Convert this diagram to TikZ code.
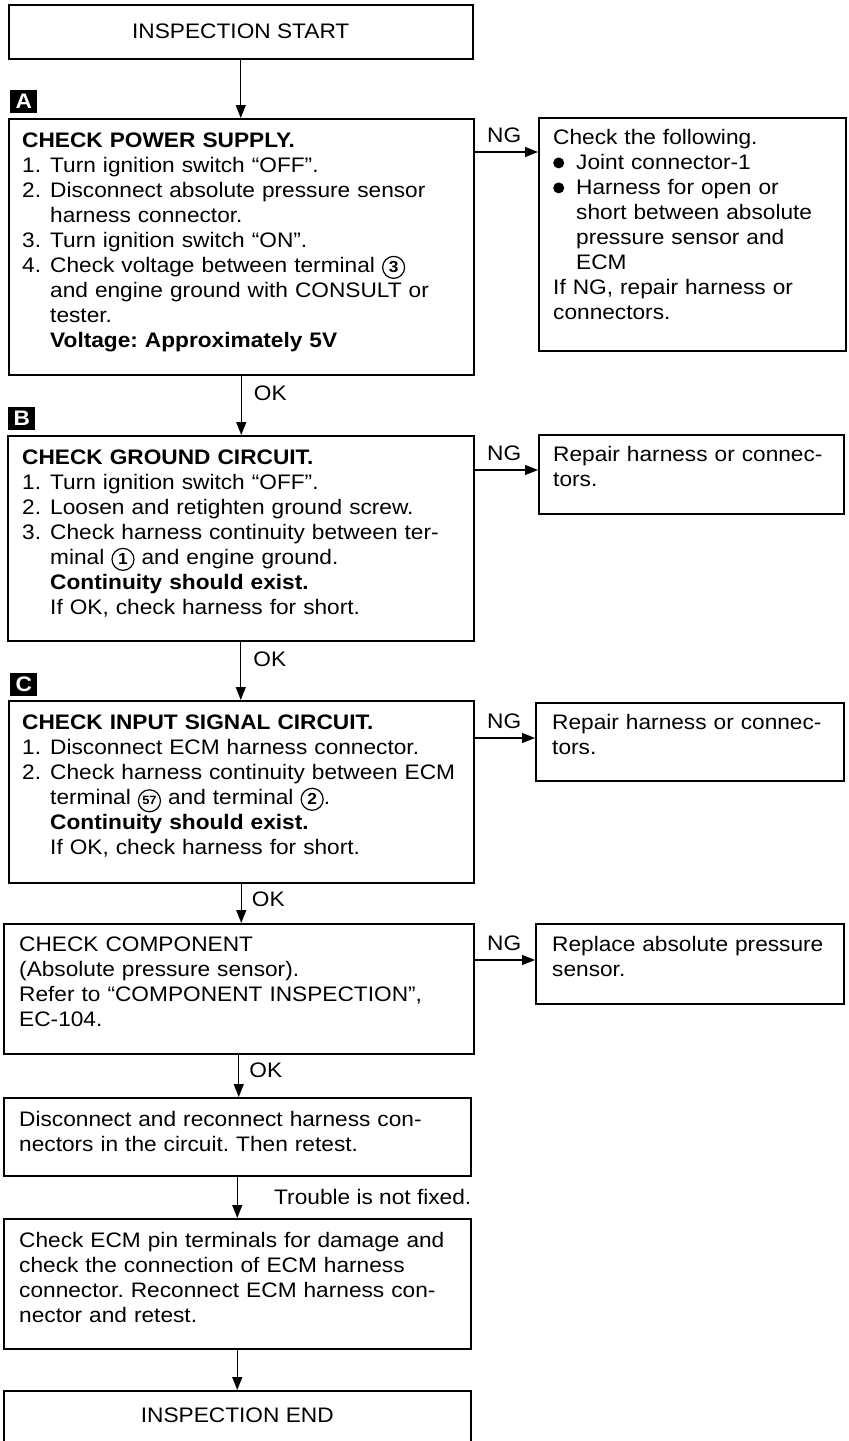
\documentclass[tikz,border=0pt]{standalone}
\usepackage{fontspec}
\setmainfont{Liberation Sans}[FakeStretch=1.08]
\usetikzlibrary{arrows.meta,positioning,calc}

\newcommand{\fs}{\fontsize{21}{25}\selectfont\frenchspacing}
\newcommand{\ind}{\hspace*{28pt}}
\newcommand{\stepno}[1]{\makebox[28pt][l]{#1}}
% circled terminal number
\newcommand{\cnum}[2][\fontsize{16}{16}\selectfont]{\tikz[baseline=(cn.base)]\node[circle,draw,line width=1.2pt,inner sep=0pt,minimum size=22pt,font=\bfseries#1](cn){#2};}
% bullet dot
\newcommand{\blob}{\makebox[23pt][l]{\tikz[baseline=0pt]\fill (0pt,6.5pt) circle (5.5pt);}}

\tikzset{
  box/.style={draw, line width=1.5pt, anchor=north west, inner sep=0pt},
  txt/.style={anchor=north west, inner sep=0pt, align=left, text width=450pt, font=\fs},
  flow/.style={line width=1.3pt, -{Triangle[length=13pt,width=10pt]}},
  tag/.style={fill=black, text=white, font=\fs\bfseries, minimum width=27pt, minimum height=23pt, inner sep=0pt, anchor=south west},
  lbl/.style={font=\fs, inner sep=0pt}
}

\begin{document}
\begin{tikzpicture}[x=1pt, y=1pt]
  \useasboundingbox (0,0) rectangle (849,-1441);
  % --- start ---
  \node[box, minimum width=464, minimum height=54, font=\fs] (start) at (8,-4) {INSPECTION START};
  % --- A: power supply ---
  \node[box, minimum width=465, minimum height=256] (chkA) at (8,-118) {};
  \node[tag] (tagA) at ([shift={(2,5)}]chkA.north west) {A};
  \node[txt] (txtA) at ([shift={(14,-15)}]chkA.north west) {%
    \textbf{CHECK POWER SUPPLY.}\\
    \stepno{1.}Turn ignition switch “OFF”.\\
    \stepno{2.}Disconnect absolute pressure sensor\\
    \ind harness connector.\\
    \stepno{3.}Turn ignition switch “ON”.\\
    \stepno{4.}Check voltage between terminal \cnum{3}\\
    \ind and engine ground with CONSULT or\\
    \ind tester.\\
    \ind\textbf{Voltage: Approximately 5V}};
  \node[box, minimum width=307, minimum height=233] (ngA) at (538,-117) {};
  \node[txt] (ngtxtA) at ([shift={(15,-12)}]ngA.north west) {%
    Check the following.\\
    \blob Joint connector-1\\
    \blob Harness for open or\\
    \hspace*{23pt}short between absolute\\
    \hspace*{23pt}pressure sensor and\\
    \hspace*{23pt}ECM\\
    If NG, repair harness or\\
    connectors.};
  % --- B: ground circuit ---
  \node[box, minimum width=466, minimum height=205] (chkB) at (7,-435) {};
  \node[tag] (tagB) at ([shift={(1,5)}]chkB.north west) {B};
  \node[txt] (txtB) at ([shift={(15,-15)}]chkB.north west) {%
    \textbf{CHECK GROUND CIRCUIT.}\\
    \stepno{1.}Turn ignition switch “OFF”.\\
    \stepno{2.}Loosen and retighten ground screw.\\
    \stepno{3.}Check harness continuity between ter-\\
    \ind minal \cnum{1} and engine ground.\\
    \ind\textbf{Continuity should exist.}\\
    \ind If OK, check harness for short.};
  \node[box, minimum width=305, minimum height=79] (ngB) at (538,-434) {};
  \node[txt] (ngtxtB) at ([shift={(15,-12)}]ngB.north west) {%
    Repair harness or connec-\\
    tors.};
  % --- C: input signal circuit ---
  \node[box, minimum width=465, minimum height=182] (chkC) at (8,-700) {};
  \node[tag] (tagC) at ([shift={(2,4)}]chkC.north west) {C};
  \node[txt] (txtC) at ([shift={(14,-15)}]chkC.north west) {%
    \textbf{CHECK INPUT SIGNAL CIRCUIT.}\\
    \stepno{1.}Disconnect ECM harness connector.\\
    \stepno{2.}Check harness continuity between ECM\\
    \ind terminal \cnum[\fontsize{12}{12}\selectfont]{57} and terminal \cnum{2}.\\
    \ind\textbf{Continuity should exist.}\\
    \ind If OK, check harness for short.};
  \node[box, minimum width=308, minimum height=78] (ngC) at (535,-702) {};
  \node[txt] (ngtxtC) at ([shift={(17,-12)}]ngC.north west) {%
    Repair harness or connec-\\
    tors.};
  % --- D: component ---
  \node[box, minimum width=470, minimum height=130] (chkD) at (3,-923) {};
  \node[txt] (txtD) at ([shift={(16,-14)}]chkD.north west) {%
    CHECK COMPONENT\\
    (Absolute pressure sensor).\\
    Refer to “COMPONENT INSPECTION”,\\
    EC-104.};
  \node[box, minimum width=308, minimum height=80] (ngD) at (535,-923) {};
  \node[txt] (ngtxtD) at ([shift={(17,-13)}]ngD.north west) {%
    Replace absolute pressure\\
    sensor.};
  % --- reconnect, pin check, end ---
  \node[box, minimum width=467, minimum height=78] (fixE) at (3,-1097) {};
  \node[txt] (txtE) at ([shift={(16,-14)}]fixE.north west) {%
    Disconnect and reconnect harness con-\\
    nectors in the circuit. Then retest.};
  \node[box, minimum width=467, minimum height=130] (fixF) at (3,-1218) {};
  \node[txt] (txtF) at ([shift={(16,-14)}]fixF.north west) {%
    Check ECM pin terminals for damage and\\
    check the connection of ECM harness\\
    connector. Reconnect ECM harness con-\\
    nector and retest.};
  \node[box, minimum width=467, minimum height=60] (finish) at (3,-1390) {};
  \node[lbl] (finishtxt) at ([yshift=-25]finish.north) {INSPECTION END};
  % --- main flow ---
  \draw[flow] (start.south) -- (start.south |- chkA.north);
  \draw[flow] (chkA.south) -- node[lbl, pos=0, anchor=north west, xshift=12, yshift=-10] (okA) {OK} (chkA.south |- chkB.north);
  \draw[flow] (chkB.south) -- node[lbl, pos=0, anchor=north west, xshift=12, yshift=-10] (okB) {OK} (chkB.south |- chkC.north);
  \draw[flow] (chkC.south) -- node[lbl, pos=0, anchor=north west, xshift=10, yshift=-8] (okC) {OK} (chkC.south |- chkD.north);
  \draw[flow] (chkD.south) -- node[lbl, pos=0, anchor=north west, xshift=10, yshift=-8] (okD) {OK} (chkD.south |- fixE.north);
  \draw[flow] (fixE.south) -- (fixE.south |- fixF.north);
  \node[lbl, anchor=east] (notfixed) at ($(fixE.south east)!0.5!(fixF.north east)$) {Trouble is not fixed.};
  \draw[flow] (fixF.south) -- (fixF.south |- finish.north);
  % --- NG branches ---
  \foreach \k/\dy in {A/34, B/35, C/38, D/37}{
    \draw[flow] ([yshift=-\dy]chk\k.north east) -- node[lbl, pos=0, anchor=south west, xshift=12, yshift=9] (ng\k lbl) {NG} ([yshift=-\dy]chk\k.north east -| ng\k.west);
  }
\end{tikzpicture}
\end{document}
